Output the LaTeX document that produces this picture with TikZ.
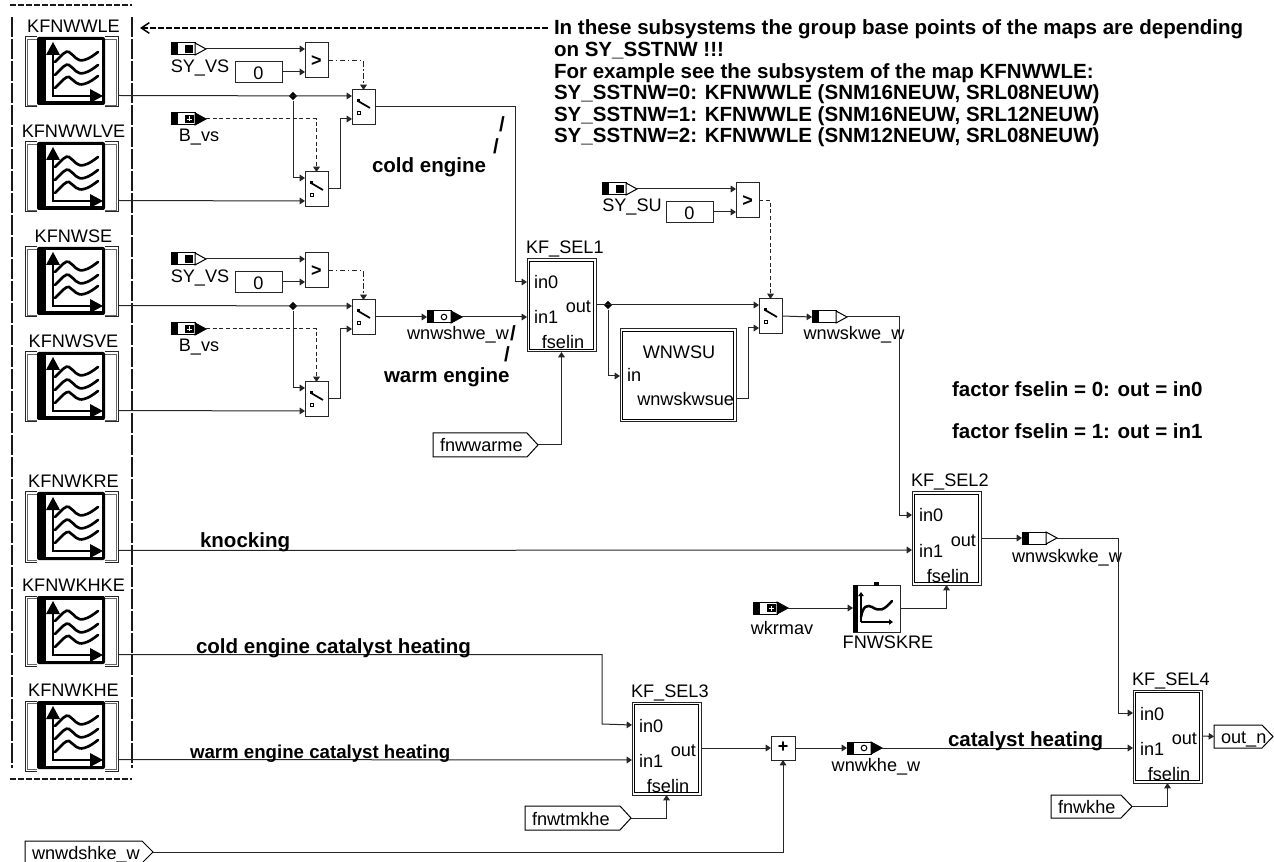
\documentclass[tikz,border=0pt]{standalone}
\usepackage{fontspec}
\setmainfont{Liberation Sans}
\usetikzlibrary{arrows.meta,shapes.geometric,calc}
\tikzset{
  x=0.75pt,y=-0.75pt,
  wire/.style={line width=0.75pt,draw=black!85,-{Triangle[length=4pt,width=5pt]}},
  plain/.style={line width=0.75pt,draw=black!85},
  dashwire/.style={line width=0.75pt,draw=black!85,dash pattern=on 3pt off 2pt,-{Triangle[length=4pt,width=5pt]}},
  dotwire/.style={line width=0.75pt,draw=black!85,dash pattern=on 4pt off 2pt on 1pt off 2pt,-{Triangle[length=4pt,width=5pt]}},
  thickdash/.style={line width=1.5pt,draw=black!90},
  lbl/.style={inner sep=0pt,outer sep=0pt,font=\fontsize{13.6}{16}\selectfont},
  note/.style={inner sep=0pt,outer sep=0pt,font=\fontsize{15.4}{16.2}\selectfont\bfseries},
  notesmall/.style={inner sep=0pt,outer sep=0pt,font=\fontsize{14}{16.2}\selectfont\bfseries},
  blk/.style={inner sep=0pt,outer sep=0pt,draw=black!85,line width=0.75pt,fill=white,rectangle,anchor=north west},
  junction/.style={diamond,fill=black,inner sep=0pt,minimum width=6.5pt,minimum height=6.5pt},
  iconline/.style={line width=2.1pt,line cap=round,draw=black},
}
% box helper: name, x1, y1, x2, y2
\newcommand\BoxN[5]{\node[blk,minimum width={(#4-#2)*0.75pt},minimum height={(#5-#3)*0.75pt}] (#1) at (#2,#3) {};}
% map block: name, title, top
\newcommand\mapblock[3]{%
  \BoxN{#1}{25}{#3}{118}{#3+70}
  \draw[line width=0.6pt,draw=black!60] (27,#3+2) rectangle (116,#3+68);
  \fill[white] (37,#3-1) rectangle (105,#3+71);
  \begin{scope}[shift={(37,#3)}]
    \fill[black,rounded corners=1.5pt] (0,0) rectangle (68,68);
    \fill[white] (9,3.5) rectangle (64.5,64.5);
    \draw[iconline] (16,14) -- (16,59) -- (58,59);
    \fill (16,5) -- (23,18) -- (9,18) -- cycle;
    \fill (66,59) -- (53,52) -- (53,66) -- cycle;
    \draw[line width=2pt,line cap=round] (18,25) .. controls (25,18) and (29,13) .. (32,15) .. controls (38,19) and (40,25) .. (47,23) .. controls (52,22) and (57,18) .. (61,15);
    \draw[line width=2pt,line cap=round] (18,38) .. controls (25,31) and (29,26) .. (32,28) .. controls (38,32) and (40,38) .. (47,36) .. controls (52,35) and (57,31) .. (61,28);
    \draw[line width=2pt,line cap=round] (18,51) .. controls (25,44) and (29,39) .. (32,40) .. controls (38,44) and (40,49) .. (47,47) .. controls (52,46) and (57,42) .. (61,39);
  \end{scope}
  \node[lbl,anchor=base] (#1-t) at (73.5,#3-4.5) {#2};
  \coordinate (#1-o) at (118,#3+58.5);
}
% source tag bodies: name, x, y(centre)
\newcommand\tagbase[4]{% name,x,y,triangle fill
  \node[inner sep=0pt,outer sep=0pt,minimum width=26.25pt,minimum height=9pt,anchor=west] (#1) at (#2,#3) {};
  \draw[line width=0.75pt,fill=white] (#2,#3-6) rectangle (#2+24,#3+6);
  \fill[black] (#2,#3-6) rectangle (#2+7,#3+6);
  \draw[line width=0.75pt,fill=#4] (#2+24,#3-6) -- (#2+35,#3) -- (#2+24,#3+6) -- cycle;
}
\newcommand\syTag[3]{\tagbase{#1}{#2}{#3}{white}\fill[black] (#2+14,#3-4) rectangle (#2+22,#3+4);}
\newcommand\inTag[3]{\tagbase{#1}{#2}{#3}{black}\fill[black] (#2+14,#3-4) rectangle (#2+23,#3+4);\draw[white,line width=0.7pt] (#2+15.5,#3) -- (#2+21,#3) (#2+18.5,#3-2.5) -- (#2+18.5,#3+2.5);}
\newcommand\circTag[3]{\tagbase{#1}{#2}{#3}{black}\draw[line width=0.75pt] (#2+17,#3) circle (2.8);}
\newcommand\whTag[3]{\tagbase{#1}{#2}{#3}{white}}
% comparator: name,x,y
\newcommand\cmp[3]{%
  \BoxN{#1}{#2}{#3}{#2+23}{#3+35}
  \node[lbl,font=\fontsize{13.5}{16}\selectfont\bfseries] (#1-t) at (#2+11.5,#3+18) {>};
  \coordinate (#1-a) at (#2,#3+6);\coordinate (#1-b) at (#2,#3+29);\coordinate (#1-o) at (#2+23,#3+18);
}
% switch: name,x,y
\newcommand\swt[3]{%
  \BoxN{#1}{#2}{#3}{#2+23}{#3+35}
  \draw[line width=1.3pt] (#2+6,#3+11) -- (#2+18,#3+18);
  \fill[black] (#2+4.5,#3+9.5) rectangle (#2+7.5,#3+12.5);
  \draw[line width=0.7pt] (#2+5,#3+21.5) rectangle (#2+8,#3+24.5);
  \coordinate (#1-a) at (#2,#3+6);\coordinate (#1-b) at (#2,#3+29);\coordinate (#1-o) at (#2+23,#3+17);\coordinate (#1-c) at (#2+11.5,#3);
}
% selector: name,x,y,title
\newcommand\sel[4]{%
  \BoxN{#1}{#2}{#3}{#2+69}{#3+93}
  \draw[line width=0.75pt] (#2+2.5,#3+2.5) rectangle (#2+66.5,#3+90.5);
  \node[lbl,anchor=base west] (#1-t) at (#2-1,#3-5) {#4};
  \node[lbl,anchor=base west] (#1-i0) at (#2+7,#3+30) {in0};
  \node[lbl,anchor=base west] (#1-i1) at (#2+7,#3+65) {in1};
  \node[lbl,anchor=base east] (#1-ou) at (#2+64,#3+54) {out};
  \node[lbl,anchor=base] (#1-fs) at (#2+36,#3+90) {fselin};
  \coordinate (#1-a) at (#2,#3+23);\coordinate (#1-b) at (#2,#3+58);\coordinate (#1-o) at (#2+69,#3+46);\coordinate (#1-s) at (#2+34.5,#3+93);
}
% output tag: name,x1,x2,y1,y2,text
\newcommand\pent[6]{%
  \draw[line width=0.75pt,fill=white] (#2,#4) -- (#3-11,#4) -- (#3,{(#4+#5)/2}) -- (#3-11,#5) -- (#2,#5) -- cycle;
  \node[lbl,anchor=base west] (#1-t) at (#2+7,{(#4+#5)/2+7}) {#6};
  \coordinate (#1-o) at (#3,{(#4+#5)/2});\coordinate (#1-i) at (#2,{(#4+#5)/2});
}
\newcommand\zero[3]{% name,x,y
  \BoxN{#1}{#2}{#3}{#2+47}{#3+21}
  \node[lbl,anchor=base] (#1-t) at (#2+23.5,#3+18) {0};
  \coordinate (#1-o) at (#2+47,#3+10);
}
\begin{document}
\begin{tikzpicture}
\useasboundingbox (0,0) rectangle (1274,862);
% frame of dashed lines
\draw[thickdash,dash pattern=on 15pt off 1.5pt] (12,17) coordinate (fl1) -- (12,768) coordinate (fl2);
\draw[thickdash,dash pattern=on 15pt off 1.5pt] (132,17) coordinate (fr1) -- (132,768) coordinate (fr2);
\draw[thickdash,dash pattern=on 4.5pt off 1.5pt] (10,5) coordinate (ft1) -- (132,5) coordinate (ft2);
\draw[thickdash,dash pattern=on 4.5pt off 1.5pt] (10,779) coordinate (fb1) -- (132,779) coordinate (fb2);
\coordinate (noteend) at (548,28);\coordinate (notearrow) at (140,28);
\draw[line width=1.1pt,dash pattern=on 4.5pt off 1.5pt,-{Straight Barb[length=6pt,width=8pt]}] (noteend) -- (notearrow);

% maps
\mapblock{m1}{KFNWWLE}{37}
\mapblock{m2}{KFNWWLVE}{142}
\mapblock{m3}{KFNWSE}{247}
\mapblock{m4}{KFNWSVE}{352}
\mapblock{m5}{KFNWKRE}{492}
\mapblock{m6}{KFNWKHKE}{596}
\mapblock{m7}{KFNWKHE}{701}

% group 1
\syTag{sy1}{171}{49}
\node[lbl,anchor=base] (sy1l) at (200,73) {SY\_VS};
\zero{z1}{235}{62}
\cmp{c1}{305}{43}
\swt{s1}{352}{90}
\swt{s2}{305}{172}
\inTag{b1}{171}{119}
\node[lbl,anchor=base] (b1l) at (199,142) {B\_vs};
% group 2
\syTag{sy2}{171}{259}
\node[lbl,anchor=base] (sy2l) at (200,283) {SY\_VS};
\zero{z2}{235}{272}
\cmp{c2}{305}{253}
\swt{s3}{352}{300}
\swt{s4}{305}{382}
\inTag{b2}{171}{329}
\node[lbl,anchor=base] (b2l) at (199,352) {B\_vs};

\draw[wire] (sy1.east) -- (c1-a);
\draw[wire] (z1-o) -- (c1-b);
\draw[dotwire] (c1-o) -| (s1-c);
\draw[dashwire] (b1.east) -| (s2-c);
\node[junction] (j1) at (293,96) {};
\draw[wire] (m1-o) -- (s1-a);
\draw[wire] (j1) |- (s2-a);
\draw[wire] (m2-o) -- (s2-b);
\coordinate (s2v) at (340,189);
\draw[wire] (s2-o) -- (s2v) |- (s1-b);

\draw[wire] (sy2.east) -- (c2-a);
\draw[wire] (z2-o) -- (c2-b);
\draw[dotwire] (c2-o) -| (s3-c);
\draw[dashwire] (b2.east) -| (s4-c);
\node[junction] (j2) at (293,306) {};
\draw[wire] (m3-o) -- (s3-a);
\draw[wire] (j2) |- (s4-a);
\draw[wire] (m4-o) -- (s4-b);
\coordinate (s4v) at (340,399);
\draw[wire] (s4-o) -- (s4v) |- (s3-b);

% selector 1 and surroundings
\sel{k1}{527}{259}{KF\_SEL1}
\circTag{t1}{427}{317}
\node[lbl,anchor=base] (t1l) at (458,340) {wnwshwe\_w};
\draw[wire] (s3-o) -- (t1.west);
\draw[wire] (t1.east) -- (k1-b |- t1.east);
\coordinate (k1v) at (515,282);
\draw[wire] (s1-o) -| (k1v) -- (k1-a);
\pent{fw}{433}{538}{433}{457}{fnwwarme}
\draw[wire] (fw-o) -| (k1-s);

\syTag{sy3}{602}{189}
\node[lbl,anchor=base] (sy3l) at (632,212) {SY\_SU};
\zero{z3}{666}{202}
\cmp{c3}{736}{183}
\swt{s5}{759}{299}
\draw[wire] (sy3.east) -- (c3-a);
\draw[wire] (z3-o) -- (c3-b);
\draw[dashwire] (c3-o) -| (s5-c);
\node[junction] (j3) at (608,305) {};
\draw[wire] (k1-o) -- (s5-a);
\BoxN{su}{620}{329}{736}{422}
\draw[line width=0.75pt] (622.5,331.5) rectangle (733.5,419.5);
\node[lbl,anchor=base] (sul) at (679,359) {WNWSU};
\node[lbl,anchor=base west] (sui) at (627,382) {in};
\node[lbl,anchor=base east] (suo) at (734,406) {wnwskwsue};
\coordinate (su-i) at (620,376);\coordinate (su-o) at (736,399);
\draw[wire] (j3) |- (su-i);
\coordinate (suv) at (748,399);
\draw[wire] (su-o) -- (suv) |- (s5-b);
\whTag{t2}{812}{317}
\node[lbl,anchor=base] (t2l) at (854,340) {wnwskwe\_w};
\draw[wire] (s5-o) -- (t2.west);

% selector 2
\sel{k2}{912}{492}{KF\_SEL2}
\coordinate (k2v) at (899,515);
\draw[wire] (t2.east) -| (k2v) -- (k2-a);
\draw[wire] (m5-o) -- (k2-b);
\inTag{t3}{753}{608}
\node[lbl,anchor=base] (t3l) at (782,634) {wkrmav};
\BoxN{fk}{853}{585}{900}{632}
\fill[black] (853,585) rectangle (858,632);
\draw[line width=1.3pt,-{Triangle[length=3pt,width=4pt]}] (861,622) -- (861,592);
\draw[line width=1.3pt,-{Triangle[length=3pt,width=4pt]}] (861,622) -- (893,622);
\draw[line width=1.9pt,line cap=round] (861,617) .. controls (863,605) and (868,605) .. (872,607) .. controls (880,612) and (884,610) .. (892,601);
\fill[black] (874,582) rectangle (879,586);
\node[lbl,anchor=base] (fkl) at (888,648) {FNWSKRE};
\draw[wire] (t3.east) -- (fk.west |- t3.east);
\draw[wire] (fk.east |- t3.east) -| (k2-s);
\whTag{t4}{1022}{538}
\node[lbl,anchor=base] (t4l) at (1067,562) {wnwskwke\_w};
\draw[wire] (k2-o) -- (t4.west);

% selector 3
\sel{k3}{632}{702}{KF\_SEL3}
\coordinate (k3v) at (602,724);
\draw[wire] (m6-o) -| (k3v) -- (k3-a);
\draw[wire] (m7-o) -- (k3-b);
\pent{ft}{525}{631}{806}{830}{fnwtmkhe}
\draw[wire] (ft-o) -| (k3-s);
\BoxN{sum}{771}{736}{795}{760}
\node[lbl,font=\fontsize{13.5}{16}\selectfont\bfseries] (suml) at (783,747.5) {+};
\draw[wire] (k3-o) -- (sum.west);
\circTag{t5}{847}{748}
\node[lbl,anchor=base] (t5l) at (876,771) {wnwkhe\_w};
\draw[wire] (sum.east) -- (t5.west);
\pent{wd}{25}{153}{841}{863}{wnwdshke\_w}
\draw[wire] (wd-o) -| (sum.south);

% selector 4
\sel{k4}{1133}{690}{KF\_SEL4}
\coordinate (k4v) at (1118,713);
\draw[wire] (t4.east) -| (k4v) -- (k4-a);
\draw[wire] (t5.east) -- (k4-b);
\pent{on}{1214}{1273}{725}{748}{out\_n}
\draw[wire] (k4-o) -- (on-i);
\pent{fh}{1051}{1132}{795}{818}{fnwkhe}
\draw[wire] (fh-o) -| (k4-s);

% bold annotations
\node[note,anchor=north west,align=left] (n0) at (554,20) {In these subsystems the group base points of the maps are depending\\on SY\_SSTNW !!!\\For example see the subsystem of the map KFNWWLE:\\SY\_SSTNW=0: KFNWWLE (SNM16NEUW, SRL08NEUW)\\SY\_SSTNW=1: KFNWWLE (SNM16NEUW, SRL12NEUW)\\SY\_SSTNW=2: KFNWWLE (SNM12NEUW, SRL08NEUW)};
\node[note,anchor=base west] (n1) at (372,173) {cold engine};
\node[note,anchor=base west] (n2) at (384,383) {warm engine};
\node[note,anchor=base west] (n3) at (200,547) {knocking};
\node[note,anchor=base west] (n4) at (196,653) {cold engine catalyst heating};
\node[notesmall,anchor=base west] (n5) at (190,758) {warm engine catalyst heating};
\node[note,anchor=base west] (n6) at (948,746) {catalyst heating};
\node[note,anchor=base west] (n7) at (952,397) {factor fselin = 0: out = in0};
\node[note,anchor=base west] (n8) at (952,439) {factor fselin = 1: out = in1};
\node[note] (sl1) at (502,124) {/};
\node[note] (sl2) at (496,146) {/};
\node[note] (sl3) at (513,333) {/};
\node[note] (sl4) at (507,354) {/};
\end{tikzpicture}
\end{document}
